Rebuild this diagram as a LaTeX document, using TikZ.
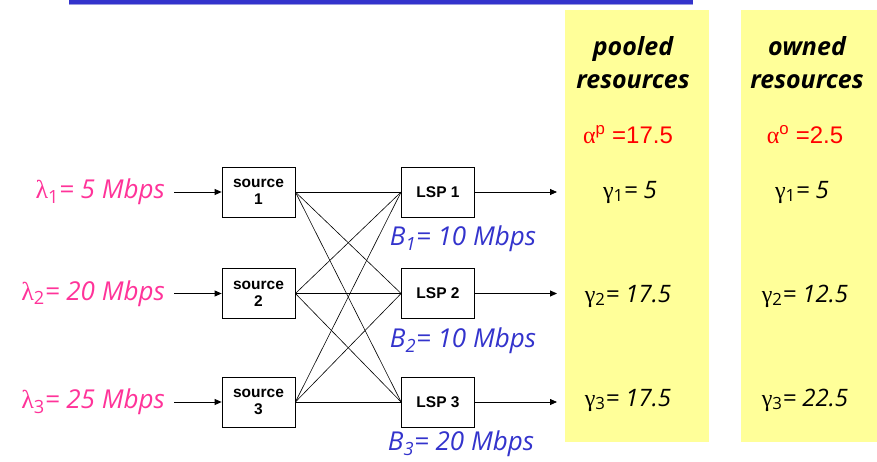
\documentclass[tikz,border=0pt]{standalone}
\usepackage{fontspec}
\usetikzlibrary{arrows.meta}
\setmainfont{Liberation Sans}
\newfontfamily\fumetto{Open Sans}
\newfontfamily\greco{Liberation Serif}

\definecolor{giallo}{HTML}{FFFF99}
\definecolor{rosa}{HTML}{FF3399}
\definecolor{blu}{HTML}{3333CC}
\definecolor{blutenue}{HTML}{9A9AE0}
\definecolor{rosso}{HTML}{FF0000}

\newcommand{\lam}[1]{{\greco\upshape λ}\textsubscript{\upshape #1}}
\newcommand{\gam}[1]{{\greco\upshape γ}\textsubscript{\upshape #1}}

\begin{document}
\begin{tikzpicture}[
  x=1pt, y=-1pt,
  fascia/.style={fill=giallo, draw=none},
  riquadro/.style={draw=black, line width=0.8pt, minimum width=73pt,
                   minimum height=50pt, align=center, inner sep=1pt,
                   font=\fontsize{15.5}{17}\selectfont\bfseries},
  tasso/.style={text=rosa, inner sep=1pt,
                font=\fontsize{26}{28}\selectfont\fumetto\itshape},
  banda/.style={text=blu, inner sep=1pt,
                font=\fontsize{26}{28}\selectfont\fumetto\itshape},
  titolo/.style={align=center, inner sep=1pt,
                 font=\fontsize{25}{33}\selectfont\fumetto\bfseries\itshape},
  quota/.style={inner sep=1pt,
                font=\fontsize{24}{26}\selectfont\fumetto\itshape},
  alfa/.style={text=rosso, inner sep=1pt, font=\fontsize{24}{26}\selectfont},
  freccia/.style={line width=0.8pt, -{Triangle[length=7pt,width=6pt]}},
  collegamento/.style={line width=0.6pt}
]
\useasboundingbox (0,0) rectangle (877,462);

%--------------------------------------------------------------
% Riga in alto e fasce gialle
%--------------------------------------------------------------
\draw[blu, line width=3.5pt] (69,2) -- (693,2);
\draw[blutenue, line width=1pt] (69,4.5) -- (693,4.5);
\fill[fascia] (565,10) rectangle (709,442);
\fill[fascia] (741,10) rectangle (877,442);

%--------------------------------------------------------------
% Sorgenti e LSP
%--------------------------------------------------------------
\node[riquadro] (src1) at (258.5,192) {source\\1};
\node[riquadro] (src2) at (258.5,293.5) {source\\2};
\node[riquadro] (src3) at (258.5,402) {source\\3};

\node[riquadro] (lsp1) at (438,192) {LSP 1};
\node[riquadro] (lsp2) at (438,293.5) {LSP 2};
\node[riquadro] (lsp3) at (438,402) {LSP 3};

\coordinate (out1) at (557,192);
\coordinate (out2) at (557,293.5);
\coordinate (out3) at (557,402);

%--------------------------------------------------------------
% Tassi in ingresso e banda degli LSP
%--------------------------------------------------------------
\node[tasso, anchor=east] (lam1) at (166,192)   {\lam{1}= 5 Mbps};
\node[tasso, anchor=east] (lam2) at (166,293.5) {\lam{2}= 20 Mbps};
\node[tasso, anchor=east] (lam3) at (166,402)   {\lam{3}= 25 Mbps};

\node[banda] (b1) at (463,239) {B\textsubscript{1}= 10 Mbps};
\node[banda] (b2) at (463,341) {B\textsubscript{2}= 10 Mbps};
\node[banda] (b3) at (461,444) {B\textsubscript{3}= 20 Mbps};

%--------------------------------------------------------------
% Collegamenti
%--------------------------------------------------------------
\foreach \n in {1,2,3} {
  \draw[freccia, shorten <=8pt] (lam\n.east) -- (src\n.west);
  \draw[freccia] (lsp\n.east) -- (out\n);
  \foreach \m in {1,2,3}
    \draw[collegamento] (src\n.east) -- (lsp\m.west);
}

%--------------------------------------------------------------
% Risorse condivise
%--------------------------------------------------------------
\node[titolo] (pooled) at (633,63) {pooled\\resources};
\node[alfa] (alfap) at (628,135) {{\greco α}\textsuperscript{p} =17.5};
\node[quota] (gp1) at (630,192) {\gam{1}= 5};
\node[quota] (gp2) at (628,296) {\gam{2}= 17.5};
\node[quota] (gp3) at (628,400) {\gam{3}= 17.5};

%--------------------------------------------------------------
% Risorse proprie
%--------------------------------------------------------------
\node[titolo] (owned) at (807,63) {owned\\resources};
\node[alfa] (alfao) at (805,135) {{\greco α}\textsuperscript{o} =2.5};
\node[quota] (go1) at (802,192) {\gam{1}= 5};
\node[quota] (go2) at (805,296) {\gam{2}= 12.5};
\node[quota] (go3) at (805,400) {\gam{3}= 22.5};

\end{tikzpicture}
\end{document}
